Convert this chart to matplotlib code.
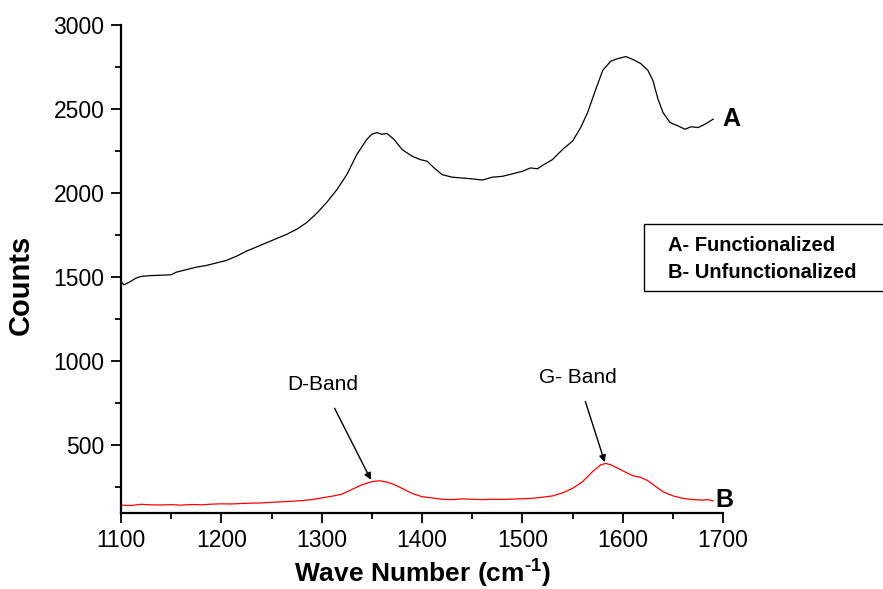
import matplotlib.pyplot as plt
from matplotlib.patches import Rectangle
from matplotlib.ticker import MultipleLocator

plt.rcParams['font.family'] = ['Liberation Sans', 'DejaVu Sans']
plt.rcParams['mathtext.fontset'] = 'custom'
plt.rcParams['mathtext.rm'] = 'Liberation Sans'
plt.rcParams['mathtext.bf'] = 'Liberation Sans:bold'

# Raman spectrum, functionalized sample (A)
wave_a = [1100, 1103, 1108, 1115, 1120, 1130, 1140, 1150, 1155, 1165, 1175,
          1185, 1195, 1205, 1215, 1225, 1235, 1245, 1255, 1265, 1275, 1285,
          1295, 1305, 1315, 1325, 1335, 1345, 1350, 1355, 1360, 1365, 1372,
          1380, 1390, 1398, 1405, 1412, 1420, 1430, 1440, 1450, 1460, 1470,
          1480, 1490, 1500, 1508, 1515, 1520, 1530, 1540, 1550, 1558, 1565,
          1572, 1580, 1588, 1595, 1603, 1610, 1618, 1625, 1630, 1635, 1640,
          1647, 1655, 1662, 1668, 1675, 1682, 1690]
counts_a = [1475, 1455, 1470, 1495, 1505, 1510, 1512, 1515, 1530, 1545, 1560,
            1570, 1585, 1600, 1625, 1655, 1680, 1705, 1730, 1755, 1785, 1825,
            1880, 1945, 2020, 2110, 2230, 2320, 2350, 2360, 2350, 2355, 2320,
            2260, 2220, 2200, 2190, 2150, 2110, 2095, 2090, 2085, 2078, 2095,
            2100, 2115, 2130, 2150, 2145, 2165, 2200, 2260, 2310, 2390, 2480,
            2600, 2730, 2785, 2800, 2812, 2795, 2770, 2730, 2670, 2560, 2480,
            2420, 2400, 2380, 2395, 2390, 2410, 2440]

# Raman spectrum, unfunctionalized sample (B)
wave_b = [1100, 1110, 1120, 1130, 1140, 1150, 1160, 1170, 1180, 1190, 1200,
          1210, 1220, 1230, 1240, 1250, 1260, 1270, 1280, 1290, 1300, 1310,
          1320, 1330, 1340, 1350, 1358, 1365, 1372, 1380, 1390, 1400, 1410,
          1420, 1430, 1440, 1450, 1460, 1470, 1480, 1490, 1500, 1510, 1520,
          1530, 1540, 1550, 1560, 1570, 1578, 1583, 1588, 1595, 1603, 1610,
          1618, 1625, 1633, 1640, 1650, 1660, 1670, 1680, 1685, 1690]
counts_b = [145, 143, 150, 147, 146, 148, 145, 149, 147, 151, 153,
            152, 155, 157, 158, 162, 165, 168, 172, 178, 188, 198,
            210, 238, 266, 285, 290, 282, 268, 245, 215, 195, 188,
            180, 178, 182, 180, 178, 180, 179, 181, 183, 186, 192,
            200, 218, 245, 285, 345, 385, 393, 385, 365, 340, 320,
            310, 290, 255, 225, 200, 185, 178, 175, 178, 170]

# band annotations: label position and arrow tip
d_band_text = (1301, 860)
d_band_tip = (1349, 296)
g_band_text = (1555, 905)
g_band_tip = (1582, 401)

fig = plt.figure(figsize=(8.83, 5.89), dpi=100)
ax = fig.add_axes([0.137, 0.1295, 0.682, 0.8281])

ax.plot(wave_a, counts_a, color='black', lw=0.9)
ax.plot(wave_b, counts_b, color='red', lw=0.9)

ax.set_xlim(1100, 1700)
ax.set_ylim(100, 3000)
ax.xaxis.set_major_locator(MultipleLocator(100))
ax.xaxis.set_minor_locator(MultipleLocator(50))
ax.yaxis.set_minor_locator(MultipleLocator(250))
ax.set_yticks([500, 1000, 1500, 2000, 2500, 3000])

for side in ('top', 'right'):
    ax.spines[side].set_visible(False)
for side in ('left', 'bottom'):
    ax.spines[side].set_linewidth(1.6)

ax.tick_params(which='major', direction='out', length=7, width=1.3,
               labelsize=16.5, pad=5)
ax.tick_params(which='minor', direction='out', length=4, width=1.3)

ax.set_xlabel('Wave Number (cm$^{\\mathbf{\u2010}\\mathbf{1}}$)', fontsize=19,
              fontweight='bold', labelpad=3)
ax.set_ylabel('Counts', fontsize=21, fontweight='bold')
ax.yaxis.set_label_coords(-0.143, 0.467)

ax.text(1699, 2440, 'A', fontsize=18, fontweight='bold', va='center', ha='left')
ax.text(1692, 175, 'B', fontsize=18, fontweight='bold', va='center', ha='left')

arrow = dict(arrowstyle='-|>', color='black', lw=1.0, mutation_scale=10,
             shrinkA=9, shrinkB=0)
ax.annotate('D-Band', xy=d_band_tip, xytext=d_band_text, fontsize=15,
            ha='center', va='center', arrowprops=arrow)
ax.annotate('G- Band', xy=g_band_tip, xytext=g_band_text, fontsize=15,
            ha='center', va='center', arrowprops=arrow)

# sample key box, running off the right edge
fig.patches.append(Rectangle((0.7293, 0.506), 0.3, 0.1138, transform=fig.transFigure,
                             fill=False, edgecolor='black', lw=1.0))
fig.text(0.757, 0.584, 'A- Functionalized', fontsize=14.5, fontweight='bold',
         va='center')
fig.text(0.757, 0.538, 'B- Unfunctionalized', fontsize=14.5, fontweight='bold',
         va='center')

fig.savefig('out.png', dpi=100)
